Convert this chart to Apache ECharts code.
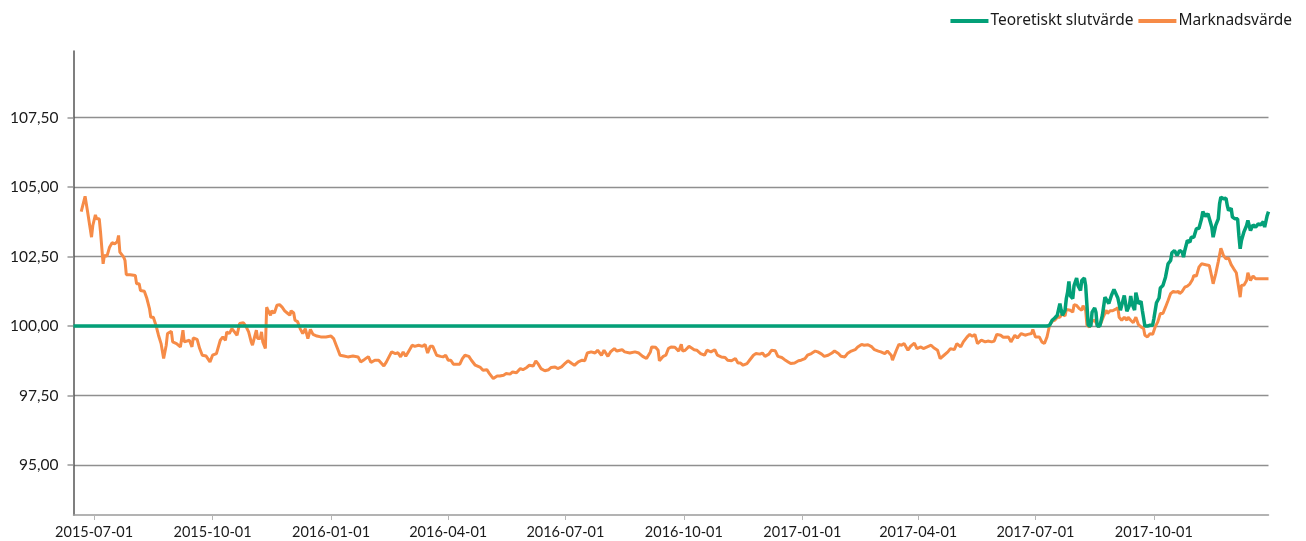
<!DOCTYPE html>
<html>
<head>
<meta charset="utf-8">
<script src="https://cdn.jsdelivr.net/npm/echarts@6/dist/echarts.min.js"></script>
<style>html,body{margin:0;padding:0;background:#fff}#chart{width:1306px;height:541px}</style>
</head>
<body>
<div id="chart"></div>
<script>
const seriesNames = ['Teoretiskt slutvärde', 'Marknadsvärde'];
const xTickDates = ['2015-07-01','2015-10-01','2016-01-01','2016-04-01','2016-07-01','2016-10-01','2017-01-01','2017-04-01','2017-07-01','2017-10-01'];
const yTickValues = [95, 97.5, 100, 102.5, 105, 107.5];

const marketDates = [
'2015-06-21','2015-06-24','2015-06-25','2015-06-26','2015-06-27','2015-06-29','2015-06-30','2015-07-02','2015-07-03','2015-07-05',
'2015-07-06','2015-07-08','2015-07-09','2015-07-11','2015-07-13','2015-07-15','2015-07-17','2015-07-19','2015-07-20','2015-07-21',
'2015-07-24','2015-07-25','2015-07-26','2015-07-29','2015-08-02','2015-08-03','2015-08-05','2015-08-06','2015-08-09','2015-08-11',
'2015-08-13','2015-08-14','2015-08-16','2015-08-18','2015-08-20','2015-08-22','2015-08-24','2015-08-26','2015-08-27','2015-08-30',
'2015-08-31','2015-09-03','2015-09-06','2015-09-08','2015-09-09','2015-09-13','2015-09-15','2015-09-16','2015-09-19','2015-09-21',
'2015-09-23','2015-09-26','2015-09-29','2015-10-01','2015-10-04','2015-10-07','2015-10-09','2015-10-11','2015-10-12','2015-10-14',
'2015-10-16','2015-10-18','2015-10-20','2015-10-22','2015-10-25','2015-10-26','2015-10-27','2015-10-29','2015-10-31','2015-11-01',
'2015-11-04','2015-11-05','2015-11-07','2015-11-08','2015-11-09','2015-11-11','2015-11-12','2015-11-13','2015-11-15','2015-11-16',
'2015-11-18','2015-11-20','2015-11-22','2015-11-24','2015-11-26','2015-11-28','2015-11-30','2015-12-01','2015-12-03','2015-12-04',
'2015-12-06','2015-12-08','2015-12-10','2015-12-12','2015-12-14','2015-12-16','2015-12-18','2015-12-21','2015-12-24','2015-12-28',
'2016-01-01','2016-01-03','2016-01-05','2016-01-06','2016-01-08','2016-01-11','2016-01-14','2016-01-18','2016-01-19','2016-01-22',
'2016-01-24','2016-01-27','2016-01-30','2016-02-01','2016-02-04','2016-02-07','2016-02-11','2016-02-13','2016-02-17','2016-02-20',
'2016-02-22','2016-02-24','2016-02-26','2016-02-28','2016-03-01','2016-03-04','2016-03-06','2016-03-09','2016-03-12','2016-03-14',
'2016-03-16','2016-03-18','2016-03-20','2016-03-23','2016-03-26','2016-03-28','2016-03-30','2016-04-01','2016-04-03','2016-04-05',
'2016-04-08','2016-04-10','2016-04-12','2016-04-14','2016-04-17','2016-04-19','2016-04-22','2016-04-26','2016-04-28','2016-05-01',
'2016-05-03','2016-05-06','2016-05-09','2016-05-11','2016-05-14','2016-05-16','2016-05-19','2016-05-21','2016-05-24','2016-05-27',
'2016-05-29','2016-06-01','2016-06-03','2016-06-06','2016-06-08','2016-06-10','2016-06-12','2016-06-15','2016-06-18','2016-06-20',
'2016-06-23','2016-06-25','2016-06-28','2016-07-01','2016-07-03','2016-07-06','2016-07-08','2016-07-11','2016-07-14','2016-07-16',
'2016-07-18','2016-07-21','2016-07-24','2016-07-26','2016-07-29','2016-07-31','2016-08-03','2016-08-05','2016-08-08','2016-08-10',
'2016-08-14','2016-08-16','2016-08-20','2016-08-24','2016-08-27','2016-08-30','2016-09-02','2016-09-05','2016-09-06','2016-09-09',
'2016-09-11','2016-09-12','2016-09-15','2016-09-17','2016-09-19','2016-09-21','2016-09-24','2016-09-27','2016-09-29','2016-09-30',
'2016-10-02','2016-10-05','2016-10-09','2016-10-11','2016-10-14','2016-10-17','2016-10-19','2016-10-22','2016-10-25','2016-10-27',
'2016-10-30','2016-11-02','2016-11-04','2016-11-07','2016-11-10','2016-11-12','2016-11-14','2016-11-16','2016-11-19','2016-11-21',
'2016-11-24','2016-11-26','2016-11-29','2016-12-01','2016-12-03','2016-12-06','2016-12-08','2016-12-11','2016-12-13','2016-12-16',
'2016-12-18','2016-12-21','2016-12-23','2016-12-26','2016-12-29','2016-12-31','2017-01-03','2017-01-05','2017-01-08','2017-01-11',
'2017-01-13','2017-01-16','2017-01-18','2017-01-21','2017-01-24','2017-01-26','2017-01-29','2017-01-31','2017-02-03','2017-02-05',
'2017-02-08','2017-02-11','2017-02-13','2017-02-16','2017-02-18','2017-02-21','2017-02-24','2017-02-26','2017-03-01','2017-03-03',
'2017-03-06','2017-03-08','2017-03-11','2017-03-12','2017-03-15','2017-03-17','2017-03-19','2017-03-21','2017-03-24','2017-03-26',
'2017-03-29','2017-03-31','2017-04-03','2017-04-05','2017-04-08','2017-04-11','2017-04-13','2017-04-16','2017-04-18','2017-04-21',
'2017-04-24','2017-04-26','2017-04-29','2017-05-01','2017-05-04','2017-05-06','2017-05-09','2017-05-11','2017-05-13','2017-05-15',
'2017-05-17','2017-05-20','2017-05-23','2017-05-25','2017-05-28','2017-05-30','2017-06-01','2017-06-04','2017-06-06','2017-06-10',
'2017-06-12','2017-06-15','2017-06-17','2017-06-20','2017-06-23','2017-06-25','2017-06-28','2017-06-29','2017-07-01','2017-07-04',
'2017-07-06','2017-07-08','2017-07-10','2017-07-12','2017-07-14','2017-07-16','2017-07-18','2017-07-20','2017-07-22','2017-07-24',
'2017-07-25','2017-07-26','2017-07-28','2017-07-30','2017-07-31','2017-08-02','2017-08-04','2017-08-06','2017-08-07','2017-08-09',
'2017-08-10','2017-08-12','2017-08-14','2017-08-16','2017-08-18','2017-08-19','2017-08-21','2017-08-23','2017-08-25','2017-08-26',
'2017-08-28','2017-08-30','2017-09-01','2017-09-03','2017-09-04','2017-09-06','2017-09-08','2017-09-10','2017-09-11','2017-09-13',
'2017-09-15','2017-09-17','2017-09-19','2017-09-21','2017-09-23','2017-09-24','2017-09-26','2017-09-28','2017-09-30','2017-10-02',
'2017-10-04','2017-10-06','2017-10-08','2017-10-10','2017-10-12','2017-10-14','2017-10-16','2017-10-18','2017-10-20','2017-10-21',
'2017-10-23','2017-10-25','2017-10-27','2017-10-29','2017-10-31','2017-11-01','2017-11-03','2017-11-05','2017-11-07','2017-11-08',
'2017-11-11','2017-11-13','2017-11-15','2017-11-16','2017-11-18','2017-11-20','2017-11-22','2017-11-23','2017-11-24','2017-11-26',
'2017-11-28','2017-11-30','2017-12-02','2017-12-04','2017-12-05','2017-12-07','2017-12-08','2017-12-10','2017-12-12','2017-12-13',
'2017-12-15','2017-12-17','2017-12-19','2017-12-21','2017-12-25','2017-12-29'
];
const marketValues = [
104.12,104.67,104.67,104.10,104.10,103.20,103.62,104.00,103.86,103.86,
103.38,102.24,102.54,102.52,102.84,103.00,102.96,103.04,103.26,102.66,
102.48,102.36,101.85,101.85,101.82,101.52,101.52,101.28,101.25,100.99,
100.63,100.32,100.32,100.03,99.67,99.37,98.83,99.31,99.73,99.81,
99.43,99.37,99.25,99.85,99.43,99.49,99.25,99.57,99.52,99.19,
98.95,98.92,98.71,98.95,99.01,99.49,99.61,99.49,99.79,99.73,
99.91,99.79,99.67,100.09,100.12,100.16,99.98,99.79,99.43,99.31,
99.85,99.55,99.55,99.79,99.43,99.19,100.68,100.57,100.39,100.55,
100.47,100.75,100.77,100.68,100.55,100.47,100.39,100.55,100.47,100.21,
100.16,99.91,99.73,99.91,99.55,99.88,99.70,99.64,99.61,99.61,
99.64,99.55,99.31,99.19,98.95,98.92,98.89,98.92,98.85,98.89,
98.71,98.80,98.90,98.69,98.77,98.77,98.56,98.71,99.07,99.01,
99.04,98.89,99.07,98.91,99.07,99.31,99.27,99.31,99.27,99.34,
99.03,99.27,99.27,98.95,98.91,98.89,98.95,98.77,98.77,98.63,
98.63,98.63,98.83,98.95,98.91,98.77,98.59,98.51,98.41,98.43,
98.29,98.11,98.20,98.20,98.23,98.29,98.27,98.35,98.32,98.47,
98.43,98.51,98.59,98.56,98.75,98.63,98.47,98.39,98.43,98.51,
98.53,98.47,98.53,98.67,98.75,98.65,98.59,98.71,98.77,98.75,
99.03,99.07,99.03,99.13,98.95,99.13,98.91,99.07,99.19,99.10,
99.15,99.07,99.03,99.07,99.03,98.91,98.83,99.07,99.25,99.24,
99.13,98.75,98.91,98.95,99.19,99.25,99.24,99.10,99.34,99.10,
99.13,99.27,99.15,99.13,99.01,98.95,99.13,99.07,99.15,98.95,
98.89,98.87,98.77,98.75,98.83,98.67,98.67,98.59,98.65,98.77,
98.95,99.01,98.99,99.03,98.91,98.99,99.13,99.11,98.91,98.87,
98.80,98.71,98.65,98.67,98.75,98.77,98.83,98.95,99.01,99.10,
99.07,98.99,98.91,98.95,99.03,99.10,99.01,98.91,98.89,99.01,
99.10,99.15,99.25,99.34,99.31,99.33,99.25,99.15,99.10,99.07,
99.01,99.10,98.95,98.77,99.13,99.34,99.31,99.37,99.13,99.27,
99.39,99.19,99.25,99.19,99.25,99.31,99.22,99.13,98.83,98.95,
99.07,99.19,99.15,99.37,99.25,99.43,99.61,99.70,99.63,99.70,
99.37,99.49,99.43,99.46,99.43,99.46,99.70,99.67,99.60,99.61,
99.43,99.67,99.57,99.73,99.67,99.70,99.73,99.88,99.61,99.61,
99.43,99.37,99.61,100.03,100.17,100.21,100.32,100.32,100.45,100.36,
100.60,100.63,100.57,100.50,100.77,100.74,100.63,100.57,100.73,100.57,
100.03,99.97,100.17,100.21,100.05,99.97,100.12,100.36,100.57,100.45,
100.55,100.55,100.60,100.66,100.32,100.21,100.32,100.21,100.32,100.21,
100.12,100.32,100.05,99.97,99.91,99.67,99.61,99.73,99.70,99.97,
100.15,100.45,100.45,100.68,100.92,101.17,101.25,101.22,101.25,101.17,
101.25,101.40,101.44,101.52,101.68,101.82,101.80,102.12,102.24,102.30,
102.20,102.18,101.76,101.52,101.88,102.32,102.80,102.68,102.54,102.42,
102.45,102.21,102.06,101.92,101.96,101.04,101.46,101.48,101.64,101.92,
101.64,101.80,101.70,101.70,101.70,101.70
];

const theoreticalDates = [
'2015-06-15','2017-07-10','2017-07-12','2017-07-14','2017-07-16','2017-07-18','2017-07-20','2017-07-21','2017-07-22','2017-07-24',
'2017-07-25','2017-07-26','2017-07-27','2017-07-28','2017-07-30','2017-07-31','2017-08-02','2017-08-03','2017-08-05','2017-08-06',
'2017-08-08','2017-08-09','2017-08-10','2017-08-11','2017-08-13','2017-08-14','2017-08-16','2017-08-17','2017-08-18','2017-08-20',
'2017-08-22','2017-08-24','2017-08-25','2017-08-27','2017-08-29','2017-08-31','2017-09-01','2017-09-03','2017-09-05','2017-09-06',
'2017-09-08','2017-09-10','2017-09-12','2017-09-13','2017-09-14','2017-09-16','2017-09-17','2017-09-19','2017-09-21','2017-09-22',
'2017-09-24','2017-09-26','2017-09-28','2017-09-30','2017-10-01','2017-10-03','2017-10-05','2017-10-06','2017-10-08','2017-10-09',
'2017-10-10','2017-10-12','2017-10-14','2017-10-15','2017-10-17','2017-10-19','2017-10-21','2017-10-23','2017-10-24','2017-10-25',
'2017-10-27','2017-10-29','2017-10-30','2017-11-01','2017-11-03','2017-11-05','2017-11-07','2017-11-08','2017-11-10','2017-11-12',
'2017-11-13','2017-11-15','2017-11-16','2017-11-18','2017-11-20','2017-11-21','2017-11-22','2017-11-24','2017-11-26','2017-11-27',
'2017-11-28','2017-11-30','2017-12-01','2017-12-03','2017-12-05','2017-12-06','2017-12-07','2017-12-08','2017-12-10','2017-12-12',
'2017-12-13','2017-12-15','2017-12-17','2017-12-19','2017-12-21','2017-12-23','2017-12-25','2017-12-26','2017-12-28','2017-12-29'
];
const theoreticalValues = [
100.00,100.00,100.03,100.21,100.29,100.39,100.81,100.57,100.39,100.57,
100.99,101.22,101.61,101.10,100.99,101.46,101.73,101.46,101.28,101.64,
101.73,101.46,100.75,100.03,100.00,100.50,100.65,100.50,100.00,100.00,
100.39,101.04,101.10,100.81,101.10,101.32,101.32,101.01,100.57,100.75,
101.10,100.53,100.75,101.08,100.81,100.57,101.20,100.81,100.89,100.57,
100.00,100.00,100.03,100.03,100.27,100.84,101.01,101.37,101.46,101.50,
101.76,102.24,102.36,102.64,102.72,102.54,102.72,102.66,102.48,102.72,
103.08,103.02,103.20,103.20,103.50,103.52,103.86,104.12,103.95,104.04,
103.98,103.56,103.20,103.62,103.86,104.40,104.64,104.58,104.60,104.34,
104.16,104.24,103.92,103.86,103.86,103.26,102.78,103.08,103.40,103.62,
103.80,103.44,103.64,103.56,103.68,103.64,103.76,103.56,103.98,104.12
];

const axisStart = '2015-06-15';
const axisEnd = '2017-12-29';
const yMin = 93.2;
const yMax = 109.9;

const GREEN = '#03a078';
const ORANGE = '#f68b47';
const FONT = 'Lato, "Noto Sans", sans-serif';

function ts(s) { return Date.parse(s + 'T00:00:00Z'); }
function zip(d, v) { return d.map((x, i) => [ts(x), v[i]]); }
function fmtDate(t) {
  const dt = new Date(t);
  const p = n => String(n).padStart(2, '0');
  return dt.getUTCFullYear() + '-' + p(dt.getUTCMonth() + 1) + '-' + p(dt.getUTCDate());
}
const xTickTs = xTickDates.map(ts);

const chart = echarts.init(document.getElementById('chart'), null, { renderer: 'canvas' });
chart.setOption({
  animation: false,
  backgroundColor: '#ffffff',
  textStyle: { fontFamily: FONT },
  legend: {
    data: seriesNames,
    top: 8,
    right: 9,
    icon: 'rect',
    itemWidth: 38,
    itemHeight: 4,
    itemGap: 5,
    textStyle: { fontSize: 15.5, color: '#1a1a1a', fontFamily: '"Noto Sans", sans-serif', padding: [0, 0, 0, -3] }
  },
  grid: { left: 73.5, right: 37.5, top: 51, bottom: 26, containLabel: false },
  xAxis: {
    type: 'value',
    min: ts(axisStart),
    max: ts(axisEnd),
    axisLine: { show: true, onZero: false, lineStyle: { color: '#9a9a9a', width: 1.5 } },
    axisTick: { show: true, length: 5, customValues: xTickTs, lineStyle: { color: '#b5b5b5', width: 1 } },
    axisLabel: {
      customValues: xTickTs,
      formatter: v => fmtDate(v),
      color: '#1a1a1a', fontSize: 14.5, margin: 10, fontFamily: FONT
    },
    splitLine: { show: false }
  },
  yAxis: {
    type: 'value',
    min: yMin,
    max: yMax,
    axisLine: { show: true, onZero: false, lineStyle: { color: '#555', width: 1.5 } },
    axisTick: { show: true, length: 6, customValues: yTickValues, lineStyle: { color: '#999', width: 1.5 } },
    axisLabel: {
      customValues: yTickValues,
      formatter: v => v.toFixed(2).replace('.', ','),
      color: '#1a1a1a', fontSize: 15.5, margin: 15, fontFamily: FONT
    },
    splitLine: { show: true, lineStyle: { color: '#8f8f8f', width: 1.3 } }
  },
  series: [
    {
      name: seriesNames[1], type: 'line', showSymbol: false, symbol: 'none',
      data: zip(marketDates, marketValues),
      lineStyle: { color: ORANGE, width: 3 }, itemStyle: { color: ORANGE }, z: 2
    },
    {
      name: seriesNames[0], type: 'line', showSymbol: false, symbol: 'none',
      data: zip(theoreticalDates, theoreticalValues),
      lineStyle: { color: GREEN, width: 3.5 }, itemStyle: { color: GREEN }, z: 3
    }
  ]
});
</script>
</body>
</html>
